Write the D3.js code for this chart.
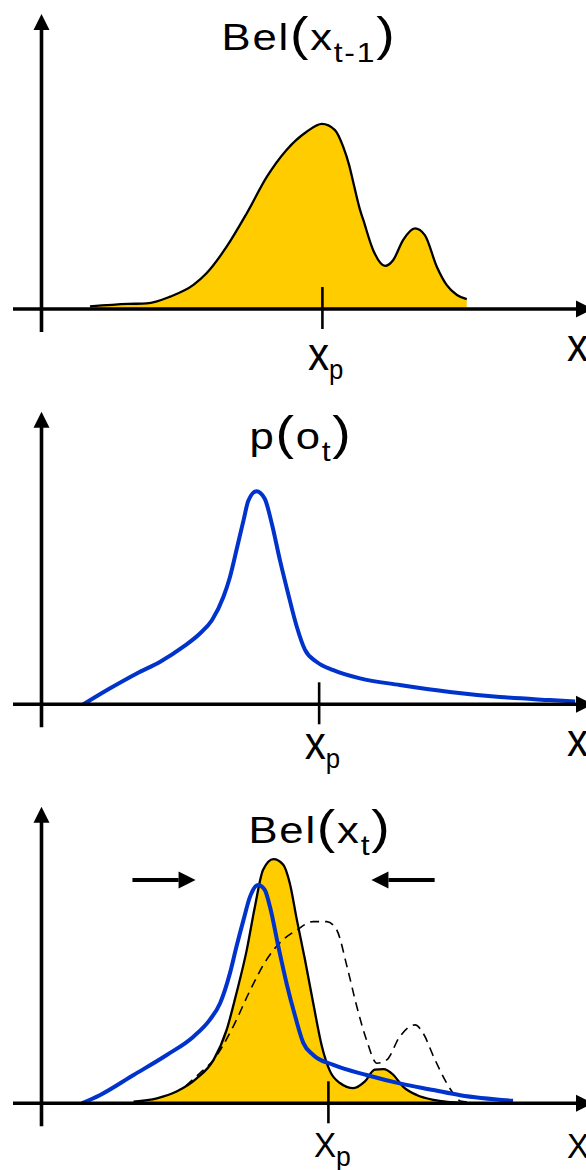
<!DOCTYPE html>
<html>
<head>
<meta charset="utf-8">
<script src="https://cdn.jsdelivr.net/npm/d3@7"></script>
<style>
  html, body { margin: 0; padding: 0; background: #fff; }
  svg { display: block; }
  text { font-family: "Liberation Sans", Arial, Helvetica, sans-serif; fill: #000; }
</style>
</head>
<body>
<svg id="chart" width="586" height="1170"></svg>
<script>
// Position of the robot's predicted state on each x axis
const predictedState = [51.5, 50.9, 52.6];

// Bel(x_{t-1}): belief before the update (density, arbitrary units)
const priorBelief = [
  [8.9, 0.9], [15.9, 1.8], [19.3, 2.0], [23.6, 4.4], [27.9, 8.6], [30.3, 12.75],
  [34.0, 22.25], [37.7, 34.2], [41.4, 47.25], [45.0, 56.8], [48.7, 63.3], [51.5, 66.1],
  [53.9, 63.9], [55.4, 58.0], [56.5, 51.4], [57.3, 44.9], [58.5, 35.4], [59.1, 31.8],
  [60.9, 21.1], [63.1, 15.4], [64.6, 17.5], [66.4, 24.6], [68.6, 28.8], [70.4, 26.4],
  [72.6, 15.1], [74.4, 8.6], [76.3, 5.0], [78.1, 3.5]
];

// p(o_t): observation likelihood
const observation = [
  [7.7, 0], [12.6, 5.7], [17.5, 11.0], [21.8, 15.2], [26.0, 20.5], [29.1, 25.3],
  [31.3, 30.0], [33.4, 38.3], [34.6, 45.4], [35.8, 55.0], [37.1, 65.7], [38.0, 72.8],
  [39.5, 76.1], [41.0, 73.4], [42.3, 64.5], [43.8, 51.4], [45.3, 39.5], [46.9, 27.6],
  [48.4, 19.4], [50.5, 15.2], [53.6, 12.2], [58.5, 9.25], [65.8, 6.9], [75.0, 4.4],
  [84.2, 2.6], [93.4, 1.5], [98.0, 1.0]
];

// Bel(x_t): belief after the update
const posteriorBelief = [
  [16.9, 0.6], [21.2, 1.8], [24.8, 4.2], [28.5, 8.9], [31.6, 15.5], [34.0, 26.2],
  [35.8, 39.3], [37.7, 54.8], [39.2, 70.3], [40.7, 83.4], [42.6, 87.2], [44.4, 85.2],
  [45.6, 78.6], [46.9, 65.5], [48.4, 51.2], [49.9, 35.8], [51.5, 20.3], [53.0, 11.4],
  [54.8, 7.25], [57.3, 5.4], [59.4, 7.8], [61.2, 12.0], [62.8, 12.2], [64.6, 10.2],
  [66.4, 5.95], [68.9, 2.96], [72.0, 1.2], [75.0, 0.4], [80.5, 0.0]
];

// Prior belief shown again (dashed) in the update panel
const priorOverlay = [
  [26.5, 6.2], [29.1, 10.8], [31.6, 15.5], [35.2, 27.4], [38.3, 40.3], [41.4, 51.5],
  [43.8, 57.4], [46.9, 61.9], [49.9, 64.9], [52.4, 64.9], [54.2, 62.0], [56.1, 48.9],
  [57.9, 34.6], [59.7, 22.6], [61.6, 14.3], [63.4, 15.5], [65.8, 23.8], [68.6, 28.0],
  [70.1, 25.0], [72.0, 16.7], [74.4, 7.25], [75.6, 3.6], [76.9, 0.8], [78.7, 0.4]
];

// Observation likelihood shown again in the update panel
const observationOverlay = [
  [7.4, 0], [10.7, 2.9], [16.9, 10.1], [23.0, 17.25], [27.9, 23.8], [30.9, 29.8],
  [32.8, 35.75], [34.6, 46.4], [35.8, 55.9], [37.1, 65.5], [38.3, 73.8], [39.8, 78.0],
  [41.0, 76.2], [41.96, 70.2], [43.5, 56.0], [45.0, 42.9], [46.6, 31.0], [48.1, 21.5],
  [49.9, 17.25], [53.6, 13.7], [59.7, 10.1], [65.8, 7.1], [72.0, 4.75], [76.9, 2.9],
  [86.6, 0.9]
];

// Arrows squeezing the belief together: [from, to] in x units, height in y units
const squeezeArrows = [[16.7, 28.3], [72.2, 60.6]];
const squeezeArrowHeight = 79.75;

const YELLOW = "#FFCC00";
const BLUE = "#0033CC";

const svg = d3.select("#chart");

const x = d3.scaleLinear().domain([0, 100]).range([41.5, 586]);

const panels = [
  { axisY: 309,    tipY: 14,    title: [["Bel"], ["(", "paren"], ["x"], ["t-1", "sub"], [")", "paren"]], titleX: 309, titleY: 50,
    xpLabel: "x", xpBase: 370, endLabel: "x", endBase: 361.5 },
  { axisY: 704.3,  tipY: 411.7, title: [["p"], ["(", "paren"], ["o"], ["t", "sub"], [")", "paren"]], titleX: 301, titleY: 449,
    xpLabel: "x", xpBase: 759, endLabel: "x", endBase: 756 },
  { axisY: 1103.3, tipY: 806.7, title: [["Bel"], ["(", "paren"], ["x"], ["t", "sub"], [")", "paren"]], titleX: 320, titleY: 843,
    xpLabel: "X", xpBase: 1157, endLabel: "X", endBase: 1158 }
];

const yScales = panels.map(p => d3.scaleLinear().domain([0, 100]).range([p.axisY, p.axisY - 280]));

// Text with subscripts; equation-style parentheses are set larger
function richText(g, parts, opts) {
  const t = g.append("text").attr("text-anchor", opts.anchor || "start");
  let shift = 0;
  parts.forEach(([s, kind]) => {
    const size = kind === "sub" ? opts.sub : kind === "paren" ? opts.paren : opts.size;
    const target = kind === "sub" ? opts.subDy : 0;
    t.append("tspan")
      .attr("dy", target - shift)
      .style("font-size", size + "px")
      .style("letter-spacing", (opts.spacing || 0) + "px")
      .text(s);
    shift = target;
  });
  return t;
}

function drawAxes(g, p, i) {
  const xp = predictedState[i];
  // x axis line with arrow head
  g.append("line")
    .attr("x1", 13).attr("x2", 580)
    .attr("y1", p.axisY).attr("y2", p.axisY)
    .attr("stroke", "#000").attr("stroke-width", 3.6);
  g.append("path")
    .attr("d", `M576,${p.axisY - 8.5}L593,${p.axisY}L576,${p.axisY + 8.5}Z`)
    .attr("fill", "#000");
  // y axis line with arrow head
  g.append("line")
    .attr("x1", x(0)).attr("x2", x(0))
    .attr("y1", p.tipY + 12).attr("y2", p.axisY + 23)
    .attr("stroke", "#000").attr("stroke-width", 3.6);
  g.append("path")
    .attr("d", `M${x(0) - 8},${p.tipY + 16}L${x(0)},${p.tipY}L${x(0) + 8},${p.tipY + 16}Z`)
    .attr("fill", "#000");
  // single tick at the predicted state
  const axis = d3.axisBottom(x).tickValues([xp]).tickFormat("").tickSizeOuter(0);
  const ag = g.append("g").attr("transform", `translate(0,${p.axisY})`).call(axis);
  ag.select(".domain").remove();
  ag.selectAll(".tick line")
    .attr("y1", -22).attr("y2", 20)
    .attr("stroke", "#000").attr("stroke-width", 2.6);

  // x_p label under the tick
  const lg = g.append("g").attr("transform", `translate(${x(xp) - 14},${p.xpBase})`);
  richText(lg, [[p.xpLabel], ["p", "sub"]],
    { size: p.xpLabel === "x" ? 46 : 35, sub: 28, paren: 46, subDy: 9 })
    .attr("transform", p.xpLabel === "x" ? "scale(0.92,1)" : "scale(0.95,1)");
  // axis name at the right end
  g.append("text")
    .attr("x", 567).attr("y", p.endBase)
    .style("font-size", (p.endLabel === "x" ? 46 : 35) + "px")
    .attr("transform", p.endLabel === "x" ? `translate(${567 * 0.08},0) scale(0.92,1)` : `translate(${567 * 0.05},0) scale(0.95,1)`)
    .text(p.endLabel);

  // panel title
  const tg = g.append("g").attr("transform", `translate(${p.titleX},${p.titleY}) scale(1.18,1)`);
  richText(tg, p.title, { anchor: "middle", size: 37, sub: 27, paren: 47, subDy: 12, spacing: 1.5 });
}

const line = y => d3.line().x(d => x(d[0])).y(d => y(d[1])).curve(d3.curveMonotoneX);
const area = y => d3.area().x(d => x(d[0])).y0(y(0)).y1(d => y(d[1])).curve(d3.curveMonotoneX);

// Panel 1: prior belief
{
  const g = svg.append("g");
  const y = yScales[0];
  g.append("path").datum(priorBelief).attr("d", area(y)).attr("fill", YELLOW);
  g.append("path").datum(priorBelief).attr("d", line(y))
    .attr("fill", "none").attr("stroke", "#000").attr("stroke-width", 2.3);
  drawAxes(g, panels[0], 0);
}

// Panel 2: observation likelihood
{
  const g = svg.append("g");
  const y = yScales[1];
  g.append("path").datum(observation).attr("d", line(y))
    .attr("fill", "none").attr("stroke", BLUE).attr("stroke-width", 4);
  drawAxes(g, panels[1], 1);
}

// Panel 3: updated belief with prior and likelihood overlaid
{
  const g = svg.append("g");
  const y = yScales[2];
  g.append("path").datum(posteriorBelief).attr("d", area(y)).attr("fill", YELLOW);
  g.append("path").datum(priorOverlay).attr("d", line(y))
    .attr("fill", "none").attr("stroke", "#000").attr("stroke-width", 1.6)
    .attr("stroke-dasharray", "9,6");
  g.append("path").datum(posteriorBelief).attr("d", line(y))
    .attr("fill", "none").attr("stroke", "#000").attr("stroke-width", 2.3);
  g.append("path").datum(observationOverlay).attr("d", line(y))
    .attr("fill", "none").attr("stroke", BLUE).attr("stroke-width", 4);

  squeezeArrows.forEach(([from, to]) => {
    const dir = Math.sign(to - from);
    const yy = y(squeezeArrowHeight);
    const tip = x(to);
    const base = tip - dir * 17;
    g.append("line")
      .attr("x1", x(from)).attr("x2", base)
      .attr("y1", yy).attr("y2", yy)
      .attr("stroke", "#000").attr("stroke-width", 4.2);
    g.append("path")
      .attr("d", `M${base},${yy - 8.5}L${tip},${yy}L${base},${yy + 8.5}Z`)
      .attr("fill", "#000");
  });
  drawAxes(g, panels[2], 2);
}
</script>
</body>
</html>
